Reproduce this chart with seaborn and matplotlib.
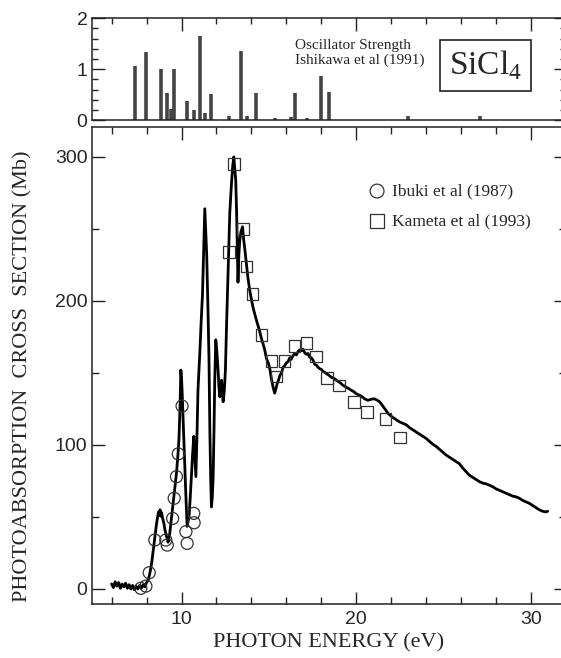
import matplotlib
matplotlib.use("Agg")
import matplotlib.pyplot as plt
import pandas as pd
import seaborn as sns
from matplotlib.ticker import MultipleLocator

# photoabsorption curve
energy_ev = [
    6.00, 6.10, 6.20, 6.30, 6.40, 6.50, 6.60, 6.70, 6.80, 6.90,
    7.00, 7.10, 7.20, 7.30, 7.40, 7.50, 7.60, 7.70, 7.80, 7.90,
    8.00, 8.08, 8.15, 8.22, 8.29, 8.36, 8.42, 8.50, 8.57, 8.63,
    8.68, 8.72, 8.77, 8.82, 8.86, 8.92, 8.99, 9.06, 9.14, 9.20,
    9.23, 9.27, 9.32, 9.37, 9.44, 9.52, 9.60, 9.71, 9.78, 9.85,
    9.91, 9.96, 10.00, 10.03, 10.08, 10.13, 10.19, 10.25, 10.32, 10.38,
    10.43, 10.50, 10.57, 10.63, 10.70, 10.76, 10.82, 10.86, 10.89, 10.94,
    10.99, 11.05, 11.12, 11.20, 11.27, 11.33, 11.38, 11.44, 11.52, 11.57,
    11.62, 11.67, 11.71, 11.76, 11.81, 11.86, 11.90, 11.96, 12.02, 12.09,
    12.14, 12.19, 12.24, 12.29, 12.34, 12.38, 12.45, 12.51, 12.58, 12.65,
    12.76, 12.85, 12.93, 12.99, 13.04, 13.10, 13.15, 13.18, 13.23, 13.28,
    13.33, 13.40, 13.49, 13.55, 13.62, 13.71, 13.80, 13.90, 14.00, 14.10,
    14.19, 14.30, 14.40, 14.47, 14.57, 14.67, 14.76, 14.86, 14.96, 15.05,
    15.14, 15.24, 15.33, 15.40, 15.48, 15.55, 15.62, 15.72, 15.81, 15.90,
    16.00, 16.10, 16.19, 16.28, 16.38, 16.48, 16.57, 16.67, 16.76, 16.86,
    16.95, 17.05, 17.14, 17.24, 17.33, 17.43, 17.52, 17.62, 17.71, 17.81,
    17.90, 18.00, 18.10, 18.19, 18.29, 18.43, 18.57, 18.76, 18.90, 19.05,
    19.23, 19.38, 19.52, 19.71, 19.86, 20.00, 20.19, 20.33, 20.48, 20.66,
    20.81, 20.95, 21.05, 21.20, 21.33, 21.43, 21.55, 21.67, 21.81, 21.95,
    22.10, 22.29, 22.48, 22.67, 22.86, 23.05, 23.24, 23.43, 23.62, 23.81,
    24.00, 24.19, 24.38, 24.57, 24.76, 24.95, 25.14, 25.33, 25.52, 25.71,
    25.90, 26.09, 26.28, 26.47, 26.66, 26.85, 27.05, 27.24, 27.43, 27.62,
    27.81, 28.00, 28.19, 28.38, 28.57, 28.76, 28.95, 29.14, 29.33, 29.52,
    29.71, 29.90, 30.09, 30.28, 30.47, 30.66, 30.85, 30.95,
]
cross_section_mb = [
    3.5, 1.0, 5.0, 2.0, 4.5, 0.5, 3.5, 1.5, 4.0, 0.5,
    3.0, 0.0, 2.5, -0.5, 2.0, 0.0, 2.5, 0.5, 3.0, 1.5,
    4.5, 6.0, 9.0, 13.0, 18.0, 25.0, 31.5, 39.0, 45.5, 50.0,
    53.5, 51.0, 55.0, 50.5, 53.0, 49.0, 45.5, 40.5, 36.5, 34.5,
    32.5, 35.0, 38.0, 43.5, 51.0, 59.5, 69.0, 80.5, 91.0, 103.5,
    125.0, 152.0, 146.0, 138.0, 121.0, 103.5, 82.0, 64.0, 43.5, 47.0,
    50.0, 64.0, 80.0, 93.0, 106.0, 92.0, 78.0, 95.0, 110.0, 138.0,
    150.0, 165.0, 185.0, 205.0, 238.0, 264.0, 250.0, 232.0, 190.0, 160.0,
    110.0, 75.0, 57.0, 64.0, 78.0, 112.0, 145.0, 173.0, 165.0, 152.0,
    140.0, 133.5, 142.0, 145.0, 136.0, 130.0, 138.0, 152.0, 185.0, 215.0,
    261.0, 280.0, 294.0, 300.0, 293.0, 284.0, 262.0, 244.0, 213.0, 232.0,
    242.0, 248.0, 251.5, 243.0, 236.0, 226.0, 216.0, 207.5, 201.0, 195.0,
    191.0, 186.0, 182.0, 179.0, 174.0, 170.0, 166.0, 160.0, 157.0, 153.0,
    146.0, 140.0, 136.0, 139.0, 143.0, 145.0, 148.0, 150.0, 154.0, 155.0,
    157.0, 158.0, 160.5, 159.5, 162.0, 163.5, 162.5, 165.0, 166.0, 165.5,
    166.5, 164.0, 163.0, 163.5, 161.0, 160.5, 159.0, 156.0, 155.5, 154.0,
    153.0, 152.5, 151.0, 150.5, 149.5, 148.5, 147.0, 146.0, 144.5, 143.5,
    141.5, 140.5, 139.5, 138.0, 137.0, 135.5, 134.5, 133.5, 132.0, 131.0,
    131.5, 132.0, 132.0, 131.0, 130.0, 128.5, 126.5, 124.5, 122.0, 120.5,
    119.0, 117.5, 116.0, 115.0, 114.0, 112.0, 110.5, 109.0, 107.5, 106.0,
    104.5, 102.5, 100.5, 99.0, 97.0, 95.0, 93.0, 91.5, 90.0, 88.5,
    87.0, 84.0, 81.5, 79.0, 77.5, 76.0, 74.5, 73.5, 73.0, 72.0,
    71.0, 69.5, 68.5, 67.5, 66.5, 65.5, 64.5, 64.0, 63.0, 61.5,
    60.5, 59.5, 58.0, 56.5, 55.0, 54.0, 53.5, 54.0,
]

# Ibuki et al (1987)
ibuki_ev = [7.67, 7.96, 8.15, 8.47, 9.10, 9.18, 9.49, 9.58, 9.71, 9.81,
            10.03, 10.25, 10.32, 10.70, 10.72]
ibuki_mb = [0.5, 2.0, 11.3, 34.0, 34.0, 30.5, 49.0, 63.0, 78.0, 93.8,
            127.0, 39.8, 31.7, 52.5, 46.0]

# Kameta et al (1993)
kameta_ev = [12.70, 12.99, 13.52, 13.71, 14.06, 14.57, 15.14, 15.43, 15.90,
             16.47, 17.14, 17.71, 18.32, 19.01, 19.86, 20.61, 21.67, 22.51]
kameta_mb = [233.8, 295.0, 250.0, 223.8, 205.0, 176.4, 158.5, 147.5, 158.5,
             168.8, 170.6, 161.3, 146.3, 141.2, 130.0, 122.7, 118.0, 105.3]

# oscillator strengths, Ishikawa et al (1991)
osc_ev = [7.33, 7.96, 8.80, 9.16, 9.39, 9.54, 10.34, 10.69, 11.03, 11.33,
          11.67, 12.70, 13.42, 13.73, 14.25, 15.33, 16.25, 16.51, 17.18,
          18.00, 18.43, 22.95, 27.09]
osc_strength = [1.07, 1.33, 1.00, 0.53, 0.22, 1.00, 0.37, 0.20, 1.65, 0.13,
                0.51, 0.07, 1.35, 0.07, 0.53, 0.04, 0.06, 0.53, 0.03,
                0.87, 0.56, 0.08, 0.07]

sns.set_style("ticks")
plt.rcParams['font.family'] = ['Liberation Serif', 'DejaVu Serif']
plt.rcParams['mathtext.fontset'] = 'custom'
plt.rcParams['mathtext.rm'] = 'Liberation Serif'
plt.rcParams['axes.linewidth'] = 1.1
plt.rcParams['axes.edgecolor'] = '#222222'

fig = plt.figure(figsize=(5.61, 6.58), dpi=100)
ax = fig.add_axes([0.1635, 0.0821, 0.8454, 0.7254])
ax_top = fig.add_axes([0.1635, 0.8176, 0.8454, 0.1546])

curve = pd.DataFrame({"energy": energy_ev, "sigma": cross_section_mb})
sns.lineplot(data=curve, x="energy", y="sigma", ax=ax, color="black",
             linewidth=2.0, sort=False, estimator=None)
sns.scatterplot(x=ibuki_ev, y=ibuki_mb, ax=ax, marker="o", s=75,
                facecolor="none", edgecolor="#333333", linewidth=0.9,
                label="Ibuki et al (1987)", zorder=3)
sns.scatterplot(x=kameta_ev, y=kameta_mb, ax=ax, marker="s", s=70,
                facecolor="none", edgecolor="#333333", linewidth=0.9,
                label="Kameta et al (1993)", zorder=3)

ax.set_xlim(4.86, 32.0)
ax.set_ylim(-10.4, 321)
ax.xaxis.set_major_locator(MultipleLocator(10))
ax.xaxis.set_minor_locator(MultipleLocator(2))
ax.yaxis.set_major_locator(MultipleLocator(100))
ax.yaxis.set_minor_locator(MultipleLocator(50))
ax.tick_params(which="both", direction="in", top=True, right=True,
               width=1.0, color="#222222", labelsize=14,
               labelfontfamily="Liberation Sans")
ax.tick_params(which="major", length=9, pad=5)
ax.tick_params(which="minor", length=5)
ax.tick_params(axis="y", which="major", pad=3)
ax.set_xlabel("PHOTON ENERGY (eV)", fontsize=16, labelpad=4)
ax.set_ylabel("PHOTOABSORPTION  CROSS  SECTION (Mb)", fontsize=16)
ax.yaxis.set_label_coords(-0.125, 0.478)

ax.legend(loc="upper left", bbox_to_anchor=(0.587, 0.881), frameon=False,
          fontsize=12.5, handlelength=0.8, handletextpad=0.45,
          labelspacing=0.8, borderpad=0, borderaxespad=0, markerscale=1.15)

# oscillator strength panel
ax_top.vlines(osc_ev, 0, osc_strength, colors="#444444", linewidth=2.6)
ax_top.set_xlim(4.86, 32.0)
ax_top.set_ylim(0, 2.0)
ax_top.xaxis.set_major_locator(MultipleLocator(10))
ax_top.xaxis.set_minor_locator(MultipleLocator(2))
ax_top.yaxis.set_major_locator(MultipleLocator(1))
ax_top.yaxis.set_minor_locator(MultipleLocator(0.2))
ax_top.tick_params(which="both", direction="in", top=True, right=True,
                   bottom=False, labelbottom=False, width=1.0,
                   color="#222222", labelsize=14,
                   labelfontfamily="Liberation Sans", pad=3)
ax_top.tick_params(which="major", length=9)
ax_top.tick_params(which="minor", length=4)

ax_top.text(0.4286, 0.659, "Oscillator Strength\nIshikawa et al (1991)",
            transform=ax_top.transAxes, ha="left", va="center",
            fontsize=11, linespacing=1.2)
ax_top.text(0.830, 0.536, "SiCl$_4$", transform=ax_top.transAxes,
            ha="center", va="center", fontsize=24,
            bbox=dict(boxstyle="square,pad=0.26", facecolor="white",
                      edgecolor="#222222", linewidth=1.2))

fig.savefig("out.png", dpi=100)
